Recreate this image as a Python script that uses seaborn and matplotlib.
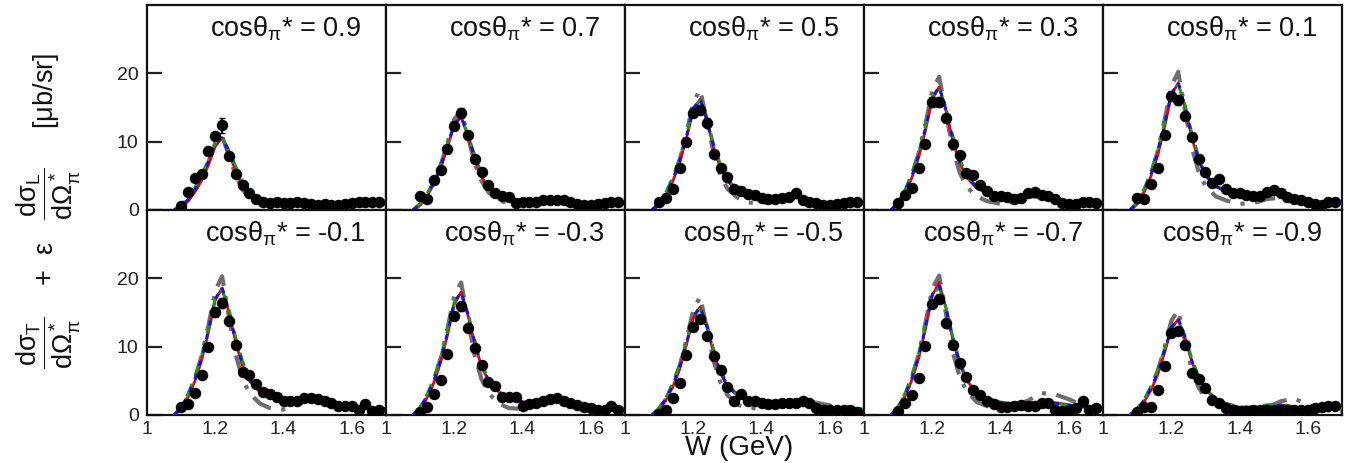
import numpy as np
import pandas as pd
import seaborn as sns
import matplotlib
matplotlib.use("Agg")
import matplotlib.pyplot as plt

# ---------------- data ----------------
panel_labels = ["0.9", "0.7", "0.5", "0.3", "0.1", "-0.1", "-0.3", "-0.5", "-0.7", "-0.9"]

# measured W points (GeV)
w_data = [1.10, 1.12, 1.14, 1.16, 1.18, 1.20, 1.22, 1.24, 1.26, 1.28,
          1.30, 1.32, 1.34, 1.36, 1.38, 1.40, 1.42, 1.44, 1.46, 1.48,
          1.50, 1.52, 1.54, 1.56, 1.58, 1.60, 1.62, 1.64, 1.66, 1.68]

xs_data = [
    [0.6, 2.6, 4.7, 5.3, 8.6, 10.8, 12.4, 7.9, 5.3, 3.7, 2.5, 1.6, 1.2, 1.0, 1.1, 1.0, 1.0, 1.1, 1.0, 0.9, 0.8, 0.9, 0.8, 0.8, 0.9, 1.0, 1.1, 1.2, 1.2, 1.2],
    [2.1, 1.6, 4.4, 5.8, 8.9, 12.3, 14.2, 11.0, 7.4, 5.5, 3.7, 2.5, 2.0, 1.9, 1.0, 1.1, 1.2, 1.2, 1.4, 1.5, 1.5, 1.4, 1.1, 0.9, 0.7, 0.8, 0.9, 1.0, 1.1, 1.1],
    [1.2, 1.7, 3.0, 6.1, 9.9, 14.2, 14.7, 12.8, 8.2, 6.1, 4.9, 3.0, 2.8, 2.3, 2.2, 1.7, 1.6, 1.6, 1.7, 1.9, 2.5, 1.5, 1.2, 1.0, 0.7, 0.7, 0.9, 1.0, 1.1, 1.2],
    [1.0, 2.2, 3.2, 6.1, 9.7, 15.8, 15.8, 13.5, 9.7, 8.0, 5.4, 5.1, 3.7, 2.8, 2.1, 2.0, 1.9, 1.6, 1.7, 2.5, 2.7, 2.2, 2.0, 1.6, 1.0, 0.9, 0.9, 1.1, 1.2, 1.0],
    [1.7, 1.6, 3.8, 6.1, 11.0, 16.7, 16.1, 13.7, 10.7, 7.4, 5.5, 3.9, 4.5, 3.0, 2.5, 2.5, 2.2, 2.0, 2.0, 2.7, 2.9, 2.5, 1.9, 1.6, 1.4, 1.2, 0.9, 0.7, 1.2, 1.1],
    [1.1, 1.6, 3.2, 5.8, 9.9, 15.0, 16.4, 13.7, 10.2, 6.3, 5.8, 4.6, 3.4, 3.0, 2.7, 2.1, 2.0, 2.1, 2.5, 2.5, 2.3, 2.1, 1.7, 1.3, 1.3, 1.3, 0.8, 1.6, 0.6, 0.7],
    [0.4, 1.2, 3.0, 5.1, 8.9, 14.5, 15.9, 12.7, 9.8, 7.3, 4.9, 4.2, 2.7, 2.6, 2.6, 1.3, 1.6, 1.8, 2.0, 2.3, 2.5, 2.1, 1.8, 1.5, 1.2, 1.0, 0.8, 0.7, 1.3, 0.7],
    [0.2, 0.8, 2.5, 4.7, 8.8, 12.9, 14.0, 11.6, 8.6, 6.6, 4.1, 2.1, 3.0, 2.0, 2.1, 1.7, 1.6, 1.6, 1.7, 1.7, 1.8, 2.0, 1.8, 1.0, 0.8, 0.7, 0.7, 0.7, 0.8, 0.5],
    [0.6, 1.7, 2.9, 5.4, 10.1, 16.3, 17.0, 13.5, 10.3, 7.6, 5.5, 3.7, 2.9, 2.0, 1.6, 1.2, 1.2, 1.3, 1.5, 1.3, 1.3, 1.7, 1.8, 0.7, 0.6, 0.7, 1.0, 2.0, 0.7, 1.0],
    [0.5, 1.1, 1.2, 3.7, 7.1, 12.0, 12.3, 10.3, 6.2, 5.2, 3.9, 2.2, 1.7, 1.0, 0.8, 0.6, 0.6, 0.7, 0.8, 0.7, 0.8, 0.7, 0.7, 0.7, 0.7, 0.8, 1.0, 1.1, 1.3, 1.3],
]

# statistical errors (mostly hidden by markers)
xs_err = [
    [0.2, 0.3, 0.4, 0.4, 0.5, 0.6, 1.1, 0.5, 0.4, 0.3, 0.3, 0.2, 0.2, 0.2, 0.2, 0.2, 0.2, 0.2, 0.2, 0.2, 0.2, 0.2, 0.2, 0.2, 0.2, 0.2, 0.2, 0.2, 0.2, 0.2],
    [0.3, 0.3, 0.4, 0.4, 0.5, 0.6, 0.7, 0.6, 0.5, 0.4, 0.3, 0.3, 0.2, 0.2, 0.2, 0.2, 0.2, 0.2, 0.2, 0.2, 0.2, 0.2, 0.2, 0.2, 0.2, 0.2, 0.2, 0.2, 0.2, 0.2],
    [0.2, 0.3, 0.3, 0.4, 0.5, 0.6, 0.7, 0.6, 0.5, 0.4, 0.3, 0.3, 0.3, 0.2, 0.2, 0.2, 0.2, 0.2, 0.2, 0.2, 0.3, 0.2, 0.2, 0.2, 0.2, 0.2, 0.2, 0.2, 0.2, 0.2],
    [0.2, 0.3, 0.3, 0.4, 0.5, 0.7, 0.7, 0.6, 0.5, 0.4, 0.3, 0.3, 0.3, 0.2, 0.2, 0.2, 0.2, 0.2, 0.2, 0.2, 0.3, 0.2, 0.2, 0.2, 0.2, 0.2, 0.2, 0.2, 0.2, 0.2],
    [0.3, 0.3, 0.3, 0.4, 0.5, 0.7, 0.7, 0.6, 0.5, 0.4, 0.3, 0.3, 0.3, 0.2, 0.2, 0.2, 0.2, 0.2, 0.2, 0.2, 0.3, 0.2, 0.2, 0.2, 0.2, 0.2, 0.2, 0.2, 0.2, 0.2],
    [0.2, 0.3, 0.3, 0.4, 0.5, 0.6, 0.7, 0.6, 0.5, 0.4, 0.3, 0.3, 0.3, 0.2, 0.2, 0.2, 0.2, 0.2, 0.2, 0.2, 0.2, 0.2, 0.2, 0.2, 0.2, 0.2, 0.2, 0.3, 0.2, 0.2],
    [0.2, 0.3, 0.3, 0.4, 0.5, 0.6, 0.7, 0.6, 0.5, 0.4, 0.3, 0.3, 0.3, 0.2, 0.2, 0.2, 0.2, 0.2, 0.2, 0.2, 0.2, 0.2, 0.2, 0.2, 0.2, 0.2, 0.2, 0.2, 0.3, 0.2],
    [0.2, 0.2, 0.3, 0.4, 0.5, 0.6, 0.6, 0.5, 0.5, 0.4, 0.3, 0.3, 0.3, 0.2, 0.2, 0.2, 0.2, 0.2, 0.2, 0.2, 0.2, 0.2, 0.2, 0.2, 0.2, 0.2, 0.2, 0.2, 0.2, 0.2],
    [0.2, 0.3, 0.3, 0.4, 0.5, 0.7, 0.7, 0.6, 0.5, 0.4, 0.3, 0.3, 0.3, 0.2, 0.2, 0.2, 0.2, 0.2, 0.2, 0.2, 0.2, 0.2, 0.2, 0.2, 0.2, 0.2, 0.2, 0.3, 0.2, 0.2],
    [0.2, 0.2, 0.3, 0.4, 0.5, 0.6, 0.6, 0.5, 0.4, 0.4, 0.3, 0.3, 0.2, 0.2, 0.2, 0.2, 0.2, 0.2, 0.2, 0.2, 0.2, 0.2, 0.2, 0.2, 0.2, 0.2, 0.2, 0.2, 0.2, 0.2],
]

# model curves sampled in W (GeV)
w_model = [1.08, 1.10, 1.12, 1.14, 1.16, 1.18, 1.20, 1.22, 1.24, 1.26, 1.28,
           1.30, 1.33, 1.36, 1.40, 1.44, 1.48, 1.52, 1.56, 1.60, 1.64, 1.70]

red_model = [
    [0, 0.5, 1.3, 2.6, 4.3, 6.6, 9.3, 10.6, 8.3, 5.7, 3.6, 2.4, 1.5, 1.1, 1.0, 1.0, 1.0, 0.9, 0.7, 0.6, 0.6, 0.9],
    [0, 0.8, 2.0, 3.8, 6.1, 9.2, 12.4, 13.6, 10.8, 7.4, 4.9, 3.3, 2.1, 1.5, 1.2, 1.3, 1.5, 1.4, 1.0, 0.7, 0.8, 1.0],
    [0, 0.9, 2.2, 4.2, 6.9, 10.5, 14.6, 16.2, 13.0, 9.0, 6.1, 4.2, 2.8, 2.2, 1.8, 1.7, 2.0, 1.9, 1.3, 0.9, 0.9, 1.1],
    [0, 1.0, 2.5, 4.7, 7.7, 11.7, 16.2, 18.0, 14.5, 10.2, 6.9, 4.8, 3.2, 2.5, 1.9, 2.0, 2.4, 2.1, 1.5, 1.1, 1.0, 1.1],
    [0, 1.0, 2.6, 4.9, 8.0, 12.1, 16.8, 18.6, 15.0, 10.6, 7.2, 5.0, 3.4, 2.7, 2.1, 2.2, 2.6, 2.4, 1.7, 1.2, 1.0, 1.0],
    [0, 1.0, 2.6, 4.9, 8.0, 12.1, 16.8, 18.6, 15.0, 10.6, 7.2, 5.0, 3.4, 2.7, 2.1, 2.2, 2.6, 2.3, 1.7, 1.3, 1.0, 0.8],
    [0, 1.0, 2.5, 4.7, 7.7, 11.7, 16.2, 18.0, 14.6, 10.4, 7.1, 5.0, 3.4, 2.6, 1.9, 2.0, 2.4, 2.2, 1.6, 1.2, 1.0, 0.8],
    [0, 0.9, 2.2, 4.1, 6.7, 10.3, 14.2, 15.8, 12.8, 9.0, 6.1, 4.2, 2.8, 2.1, 1.7, 1.7, 2.0, 1.9, 1.4, 1.1, 1.0, 0.8],
    [0, 1.1, 2.7, 5.1, 8.3, 12.6, 17.5, 19.4, 15.6, 11.0, 7.4, 5.1, 3.3, 2.4, 1.8, 1.7, 1.8, 1.9, 1.8, 1.5, 1.2, 1.0],
    [0, 0.8, 1.9, 3.6, 5.9, 9.1, 12.6, 14.0, 11.2, 7.8, 5.3, 3.7, 2.3, 1.7, 1.1, 1.1, 1.3, 1.5, 1.2, 0.9, 0.9, 1.0],
]

blue_model = [
    [0, 0.6, 1.5, 2.9, 4.7, 7.0, 9.6, 10.7, 8.6, 6.0, 3.9, 2.6, 1.6, 1.1, 0.9, 0.9, 0.9, 0.8, 0.7, 0.7, 0.8, 1.1],
    [0, 0.9, 2.2, 4.0, 6.4, 9.5, 12.6, 13.7, 11.0, 7.7, 5.1, 3.4, 2.1, 1.5, 1.2, 1.2, 1.4, 1.3, 1.0, 0.8, 0.8, 1.1],
    [0, 1.0, 2.4, 4.5, 7.2, 10.8, 14.8, 16.3, 13.2, 9.2, 6.3, 4.3, 2.8, 2.2, 1.7, 1.6, 1.9, 1.8, 1.3, 0.9, 0.9, 1.1],
    [0, 1.1, 2.7, 5.0, 8.0, 12.0, 16.4, 18.1, 14.7, 10.4, 7.1, 4.9, 3.3, 2.5, 1.9, 1.9, 2.3, 2.1, 1.5, 1.1, 1.0, 1.2],
    [0, 1.1, 2.8, 5.2, 8.3, 12.4, 17.0, 18.7, 15.2, 10.8, 7.4, 5.1, 3.5, 2.7, 2.1, 2.1, 2.5, 2.3, 1.7, 1.2, 1.0, 1.1],
    [0, 1.1, 2.8, 5.2, 8.3, 12.4, 17.0, 18.7, 15.2, 10.9, 7.4, 5.1, 3.5, 2.7, 2.1, 2.1, 2.6, 2.3, 1.7, 1.3, 1.0, 0.9],
    [0, 1.1, 2.7, 5.0, 8.0, 12.0, 16.4, 18.1, 14.8, 10.6, 7.3, 5.1, 3.4, 2.6, 1.9, 2.0, 2.4, 2.2, 1.6, 1.2, 1.0, 0.9],
    [0, 1.0, 2.4, 4.4, 7.0, 10.6, 14.4, 15.9, 13.0, 9.2, 6.3, 4.3, 2.8, 2.1, 1.7, 1.7, 2.0, 1.9, 1.4, 1.1, 1.0, 0.9],
    [0, 1.2, 2.9, 5.4, 8.6, 12.9, 17.7, 18.9, 15.6, 11.2, 7.6, 5.2, 3.3, 2.4, 1.8, 1.6, 1.7, 1.8, 1.7, 1.4, 1.2, 1.0],
    [0, 0.9, 2.1, 3.9, 6.2, 9.4, 12.8, 14.2, 11.4, 8.0, 5.4, 3.7, 2.3, 1.6, 1.1, 1.1, 1.3, 1.4, 1.2, 0.9, 0.9, 1.0],
]

green_model = [
    [0, 0.7, 1.8, 3.3, 5.1, 7.4, 9.8, 10.5, 8.8, 6.4, 4.3, 2.8, 1.7, 1.2, 0.9, 0.9, 0.9, 0.8, 0.7, 0.7, 0.8, 1.1],
    [0, 1.0, 2.4, 4.3, 6.8, 9.8, 12.7, 13.5, 11.2, 8.0, 5.4, 3.6, 2.3, 1.6, 1.2, 1.2, 1.4, 1.3, 1.0, 0.8, 0.8, 1.1],
    [0, 1.1, 2.7, 4.8, 7.6, 11.1, 15.0, 16.0, 13.5, 9.6, 6.6, 4.5, 3.0, 2.3, 1.8, 1.7, 2.0, 1.9, 1.3, 0.9, 0.9, 1.1],
    [0, 1.2, 3.0, 5.4, 8.5, 12.4, 16.6, 17.8, 15.0, 10.9, 7.5, 5.2, 3.4, 2.6, 2.0, 2.0, 2.5, 2.2, 1.5, 1.1, 1.0, 1.2],
    [0, 1.2, 3.1, 5.6, 8.8, 12.8, 17.2, 18.4, 15.5, 11.3, 7.8, 5.4, 3.6, 2.8, 2.2, 2.2, 2.7, 2.4, 1.7, 1.2, 1.0, 1.1],
    [0, 1.2, 3.1, 5.6, 8.8, 12.8, 17.2, 18.2, 15.6, 11.4, 7.9, 5.5, 3.7, 2.8, 2.2, 2.3, 2.9, 2.5, 1.8, 1.3, 1.0, 0.9],
    [0, 1.2, 3.0, 5.4, 8.5, 12.4, 16.6, 17.6, 15.0, 11.0, 7.6, 5.3, 3.6, 2.7, 2.0, 2.1, 2.6, 2.3, 1.6, 1.2, 1.0, 0.9],
    [0, 1.1, 2.6, 4.7, 7.4, 10.9, 14.6, 15.5, 13.3, 9.6, 6.6, 4.5, 3.0, 2.2, 1.8, 1.8, 2.3, 2.0, 1.4, 1.1, 1.0, 0.9],
    [0, 1.3, 3.2, 5.8, 9.1, 13.3, 17.8, 18.6, 15.8, 11.5, 7.9, 5.4, 3.5, 2.5, 1.9, 1.7, 1.8, 1.9, 1.7, 1.4, 1.2, 1.0],
    [0, 1.0, 2.3, 4.2, 6.6, 9.7, 13.0, 13.8, 11.6, 8.3, 5.7, 3.9, 2.4, 1.7, 1.2, 1.2, 1.5, 1.6, 1.2, 0.9, 0.9, 1.0],
]

gray_model = [
    [0, 0.5, 1.4, 2.8, 4.6, 7.0, 9.8, 10.8, 8.0, 5.0, 3.0, 1.8, 1.0, 0.8, 0.8, 0.9, 0.9, 0.8, 0.7, 0.7, 0.8, 1.0],
    [0, 0.8, 2.1, 4.0, 6.5, 9.8, 13.3, 14.5, 10.8, 6.8, 4.2, 2.6, 1.4, 1.0, 1.0, 1.2, 1.4, 1.3, 1.0, 0.8, 0.8, 1.0],
    [0, 0.9, 2.3, 4.4, 7.3, 11.2, 15.8, 17.6, 13.0, 8.2, 5.0, 3.1, 1.8, 1.1, 1.0, 1.4, 1.9, 1.8, 1.2, 0.8, 0.8, 1.0],
    [0, 1.0, 2.6, 5.0, 8.3, 12.6, 17.5, 19.5, 14.2, 8.9, 5.5, 3.4, 2.0, 1.3, 0.9, 1.3, 2.0, 1.9, 1.3, 1.0, 0.9, 1.0],
    [0, 1.0, 2.7, 5.2, 8.6, 13.1, 18.1, 20.2, 14.6, 9.1, 5.6, 3.5, 2.0, 1.4, 0.9, 1.0, 1.6, 1.8, 1.4, 1.0, 0.9, 1.0],
    [0, 1.0, 2.7, 5.2, 8.6, 13.1, 18.2, 20.3, 14.4, 8.8, 5.3, 3.2, 1.7, 1.0, 0.8, 1.5, 2.4, 2.3, 1.7, 1.2, 1.0, 0.8],
    [0, 1.0, 2.6, 5.0, 8.3, 12.6, 17.5, 19.4, 14.0, 8.6, 5.2, 3.2, 1.7, 1.0, 0.9, 1.6, 2.4, 2.3, 1.6, 1.1, 0.9, 0.8],
    [0, 0.9, 2.3, 4.4, 7.2, 11.0, 15.4, 17.3, 12.6, 7.8, 4.7, 2.9, 1.5, 1.0, 1.0, 1.5, 1.9, 2.0, 1.8, 1.4, 1.0, 0.7],
    [0, 1.1, 2.8, 5.4, 8.9, 13.5, 18.5, 20.4, 14.8, 9.2, 5.6, 3.5, 1.9, 1.3, 1.2, 1.4, 2.1, 3.2, 3.0, 2.3, 1.4, 0.8],
    [0, 0.8, 2.0, 3.9, 6.4, 9.8, 13.8, 15.3, 10.8, 6.6, 4.0, 2.5, 1.3, 0.8, 0.6, 0.8, 1.1, 2.0, 2.4, 1.5, 0.8, 0.5],
]

x_ticks = [1.0, 1.2, 1.4, 1.6]
x_tick_labels = ["1", "1.2", "1.4", "1.6"]
y_ticks = [0, 10, 20]
y_tick_labels = ["0", "10", "20"]

# ---------------- style ----------------
sns.set_theme(style="white")
plt.rcParams["font.family"] = ["Liberation Sans", "DejaVu Sans"]
plt.rcParams["mathtext.fontset"] = "custom"
plt.rcParams["mathtext.rm"] = "Liberation Sans"
plt.rcParams["mathtext.it"] = "Liberation Sans"
plt.rcParams["mathtext.sf"] = "Liberation Sans"
plt.rcParams["mathtext.bf"] = "Liberation Sans:bold"

fig = plt.figure(figsize=(13.57, 4.63), dpi=100)
axes = fig.subplots(2, 5, sharex=True, sharey=True,
                    gridspec_kw=dict(hspace=0, wspace=0))
fig.subplots_adjust(left=0.1083, right=0.9890, top=0.9892, bottom=0.1037)

model_styles = [
    (gray_model, dict(color="#6e6e6e", lw=3.0, linestyle=(0, (5, 2.5, 1, 2.5)), zorder=2)),
    (red_model, dict(color="#e3001b", lw=2.0, linestyle="-", zorder=3)),
    (green_model, dict(color="#1a9a1a", lw=2.0, linestyle=(0, (5, 3)), zorder=4)),
    (blue_model, dict(color="#1010ee", lw=2.0, linestyle=(0, (2, 3)), zorder=5)),
]

for i, ax in enumerate(axes.flat):
    for arrs, st in model_styles:
        df = pd.DataFrame({"W": w_model, "xs": arrs[i]})
        sns.lineplot(data=df, x="W", y="xs", ax=ax, sort=False, estimator=None,
                     legend=False, **st)
    ax.errorbar(w_data, xs_data[i], yerr=xs_err[i], fmt="none", ecolor="black",
                elinewidth=1.5, capsize=2.5, zorder=6)
    dd = pd.DataFrame({"W": w_data, "xs": xs_data[i]})
    sns.scatterplot(data=dd, x="W", y="xs", ax=ax, color="black", s=68,
                    edgecolor="black", linewidth=0, zorder=7, legend=False)

    ax.set_xlim(1.0, 1.7)
    ax.set_ylim(0, 30)
    ax.set_xlabel("")
    ax.set_ylabel("")
    ax.set_xticks(x_ticks)
    ax.set_xticklabels(x_tick_labels)
    ax.set_yticks(y_ticks)
    ax.set_yticklabels(y_tick_labels)
    ax.tick_params(axis="y", direction="in", length=11, width=1.6, left=True,
                   right=False, labelsize=14, pad=6, colors="#222222")
    ax.tick_params(axis="x", direction="in", length=0, labelsize=14, pad=4,
                   colors="#222222")
    for sp in ax.spines.values():
        sp.set_linewidth(1.6)
        sp.set_color("#111111")
    ax.text(0.58, 0.885, r"cosθ$_{\pi}$* = " + panel_labels[i],
            transform=ax.transAxes, ha="center", va="center", fontsize=19.5,
            color="#111111")

fig.text(0.545, 0.032, "W (GeV)", ha="center", va="center", fontsize=20,
         color="#111111")
fig.text(0.036, 0.545,
         r"$\dfrac{d\sigma_T}{d\Omega^*_\pi}$    +  $\epsilon$   $\dfrac{d\sigma_L}{d\Omega^*_\pi}$     [$\mu$b/sr]",
         rotation=90, ha="center", va="center", fontsize=19.5, color="#111111")

fig.savefig("out.png", dpi=100)
